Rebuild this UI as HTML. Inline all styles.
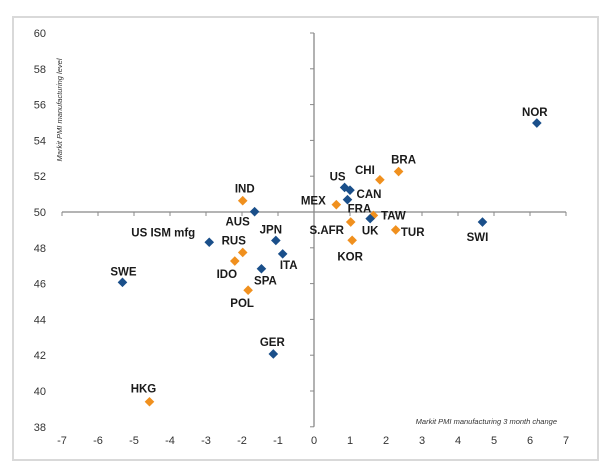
<!DOCTYPE html>
<html><head><meta charset="utf-8"><style>
body{margin:0;background:#fff;}
svg{display:block;font-family:"Liberation Sans",sans-serif;}
</style></head><body>
<svg id="chart" width="600" height="473">
<rect x="13" y="17" width="585" height="443" fill="#fff" stroke="#d9d9d9" stroke-width="2"/>
<g id="axes"></g>
<g id="points"></g>
<text x="0" y="0" transform="translate(62,110) rotate(-90)" text-anchor="middle" font-size="7.5" font-style="italic" fill="#333">Markit PMI manufacturing level</text>
<text x="557" y="424" text-anchor="end" font-size="7.5" font-style="italic" fill="#333">Markit PMI manufacturing 3 month change</text>
</svg>
<script>
const names = ["NOR","BRA","CHI","US","CAN","FRA","MEX","TAW","UK","S.AFR","KOR","TUR","SWI","IND","AUS","US ISM mfg","JPN","RUS","ITA","IDO","SPA","POL","SWE","GER","HKG"];
const xChange = [6.19,2.35,1.83,0.85,1.0,0.93,0.62,1.65,1.56,1.02,1.06,2.27,4.68,-1.98,-1.65,-2.91,-1.06,-1.98,-0.87,-2.2,-1.46,-1.83,-5.32,-1.13,-4.57];
const yLevel = [54.97,52.26,51.8,51.37,51.22,50.69,50.41,49.81,49.63,49.44,48.42,49.0,49.44,50.63,50.02,48.31,48.41,47.74,47.66,47.26,46.83,45.63,46.07,42.07,39.4];
const group = ["b","o","o","b","b","b","o","o","b","o","o","o","b","o","b","b","b","o","b","o","b","o","b","b","o"];
const xTicks = [-7,-6,-5,-4,-3,-2,-1,0,1,2,3,4,5,6,7];
const yTicks = [38,40,42,44,46,48,50,52,54,56,58,60];
// label offsets (layout, pixels)
const labOff = [[-2,-11],[5,-12],[-15,-10],[-7,-11],[19,4],[12,9],[-23,-4],[20,0],[0,12],[-24,8],[-2,16],[17,2],[-5,15],[2,-12],[-17,10],[-46,-10],[-5,-11],[-9,-12],[6,11],[-8,13],[4,12],[-6,13],[1,-11],[-1,-12],[-6,-13]];
const NS="http://www.w3.org/2000/svg";
const xs = v => 314 + v*36;
const ys = v => 212 - (v-50)*17.9;
const axes=document.getElementById('axes'), pts=document.getElementById('points');
function mk(tag, attrs, parent){const e=document.createElementNS(NS,tag);for(const k in attrs)e.setAttribute(k,attrs[k]);parent.appendChild(e);return e;}
let l=mk('line',{x1:xs(0),x2:xs(0),y1:ys(60),y2:ys(38),stroke:'#888','stroke-width':1.3},axes);


l=mk('line',{x1:xs(-7),x2:xs(7),y1:ys(50),y2:ys(50),stroke:'#888','stroke-width':1.3},axes);


xTicks.forEach(t=>{
  const tk=mk('line',{x1:xs(t),x2:xs(t),y1:ys(50),y2:ys(50)+4,stroke:'#888'},axes);
  
  
  const tx=mk('text',{x:xs(t),y:444,'text-anchor':'middle','font-size':11,fill:'#333'},axes);
  tx.textContent=t;
  
  
});
yTicks.forEach(t=>{
  const tk=mk('line',{x1:xs(0)-4,x2:xs(0),y1:ys(t),y2:ys(t),stroke:'#888'},axes);
  
  
  const tx=mk('text',{x:46,y:ys(t)+4,'text-anchor':'end','font-size':11,fill:'#333'},axes);
  tx.textContent=t;
  
  
});
names.forEach((n,i)=>{
  const cx=xs(xChange[i]), cy=ys(yLevel[i]), r=4.8;
  const d=mk('polygon',{points:`${cx},${cy-r} ${cx+r},${cy} ${cx},${cy+r} ${cx-r},${cy}`,fill:group[i]==='b'?'#1a4f8a':'#f0901e'},pts);
  
  
  const t=mk('text',{x:cx+labOff[i][0],y:cy+labOff[i][1]+4,'text-anchor':'middle','font-size':11.5,'font-weight':'bold',fill:'#1a1a1a'},pts);
  t.textContent=n;
  
  
});
</script>
</body></html>
